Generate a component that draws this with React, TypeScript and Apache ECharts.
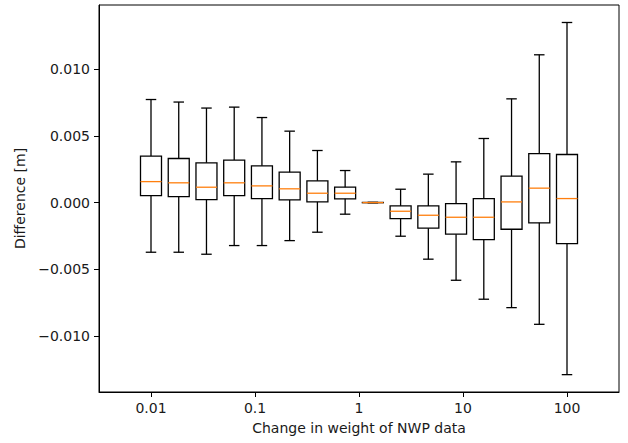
import React, { useEffect, useRef } from "react";
import * as echarts from "echarts";

// Weight multipliers (log-spaced, 0.01 .. 100)
const weights = [0.01, 0.01848, 0.03415, 0.0631, 0.1166, 0.2154, 0.3981, 0.7356, 1.359, 2.512, 4.642, 8.577, 15.85, 29.29, 54.12, 100];
const whiskerLow = [-0.00372, -0.00372, -0.00387, -0.00322, -0.00322, -0.00285, -0.00222, -0.00087, -0.00002, -0.00252, -0.00424, -0.00582, -0.00724, -0.00787, -0.00912, -0.01289];
const q1 = [0.000525, 0.00045, 0.000225, 0.000525, 0.0003, 0.0002, 0.00005, 0.00028, -0.00001, -0.0012, -0.00192, -0.00237, -0.00277, -0.002, -0.00152, -0.00307];
const median = [0.00157, 0.00148, 0.00115, 0.00148, 0.00125, 0.00103, 0.0007, 0.0007, 0.0, -0.00065, -0.00095, -0.0011, -0.0011, 0.00005, 0.00108, 0.0003];
const q3 = [0.00348, 0.0033, 0.00298, 0.00318, 0.00275, 0.00228, 0.00163, 0.00115, 0.00001, -0.00025, -0.00025, -0.000075, 0.0003, 0.00198, 0.00367, 0.0036];
const whiskerHigh = [0.00772, 0.00753, 0.00708, 0.00715, 0.00637, 0.00535, 0.0039, 0.0024, 0.00002, 0.001, 0.00213, 0.00305, 0.0048, 0.00777, 0.01107, 0.01349];

const yTicks = [-0.01, -0.005, 0, 0.005, 0.01];
const xTicks = [-2, -1, 0, 1, 2];
const xTickLabels = ["0.01", "0.1", "1", "10", "100"];

const FONT = "DejaVu Sans";
const TEXT = "#1a1a1a";

export default function App() {
  const ref = useRef<HTMLDivElement>(null);
  useEffect(() => {
    const chart = echarts.init(ref.current!, null, { renderer: "svg" });
    const data = weights.map((w, i) => [Math.log10(w), whiskerLow[i], q1[i], median[i], q3[i], whiskerHigh[i]]);
    const boxW = 21;
    const capW = 10.5;
    const lineStyle = { stroke: "#000", lineWidth: 1.3, fill: null };
    chart.setOption({
      animation: false,
      grid: { left: 99, right: 9, top: 5, bottom: 51, show: true, borderColor: "#000", borderWidth: 1 },
      xAxis: {
        type: "value",
        min: -2.5,
        max: 2.5,
        splitLine: { show: false },
        axisLine: { show: true, onZero: false, lineStyle: { color: "#000", width: 1 } },
        axisTick: { show: true, length: 5, lineStyle: { color: "#000" }, customValues: xTicks },
        axisLabel: {
          customValues: xTicks,
          margin: 9,
          fontFamily: FONT,
          fontSize: 14,
          color: TEXT,
          formatter: (v: number) => {
            const idx = xTicks.findIndex((t) => Math.abs(t - v) < 1e-9);
            return idx >= 0 ? xTickLabels[idx] : "";
          },
        },
        name: "Change in weight of NWP data",
        nameLocation: "middle",
        nameGap: 29,
        nameTextStyle: { fontFamily: FONT, fontSize: 14, color: TEXT },
      },
      yAxis: {
        type: "value",
        min: -0.01419,
        max: 0.0148,
        splitLine: { show: false },
        axisLine: { show: true, onZero: false, lineStyle: { color: "#000", width: 1 } },
        axisTick: { show: true, length: 5, lineStyle: { color: "#000" }, customValues: yTicks },
        axisLabel: {
          customValues: yTicks,
          margin: 9,
          fontFamily: FONT,
          fontSize: 14,
          color: TEXT,
          formatter: (v: number) => v.toFixed(3).replace("-", "\u2212"),
        },
        name: "Difference [m]",
        nameLocation: "middle",
        nameGap: 70,
        nameTextStyle: { fontFamily: FONT, fontSize: 14, color: TEXT },
      },
      series: [
        {
          type: "custom",
          data,
          encode: { x: 0, y: [1, 2, 3, 4, 5] },
          renderItem: (params: any, api: any) => {
            const x = api.value(0);
            const pLow = api.coord([x, api.value(1)]);
            const pQ1 = api.coord([x, api.value(2)]);
            const pMed = api.coord([x, api.value(3)]);
            const pQ3 = api.coord([x, api.value(4)]);
            const pHigh = api.coord([x, api.value(5)]);
            const cx = pLow[0];
            return {
              type: "group",
              children: [
                { type: "line", shape: { x1: cx, y1: pLow[1], x2: cx, y2: pQ1[1] }, style: lineStyle },
                { type: "line", shape: { x1: cx, y1: pQ3[1], x2: cx, y2: pHigh[1] }, style: lineStyle },
                { type: "line", shape: { x1: cx - capW / 2, y1: pLow[1], x2: cx + capW / 2, y2: pLow[1] }, style: lineStyle },
                { type: "line", shape: { x1: cx - capW / 2, y1: pHigh[1], x2: cx + capW / 2, y2: pHigh[1] }, style: lineStyle },
                {
                  type: "rect",
                  shape: { x: cx - boxW / 2, y: pQ3[1], width: boxW, height: pQ1[1] - pQ3[1] },
                  style: { stroke: "#000", lineWidth: 1.3, fill: "none" },
                },
                {
                  type: "line",
                  shape: { x1: cx - boxW / 2, y1: pMed[1], x2: cx + boxW / 2, y2: pMed[1] },
                  style: { stroke: "#ff7f0e", lineWidth: 1.3 },
                },
              ],
            };
          },
        },
      ],
    });
    return () => chart.dispose();
  }, []);
  return <div ref={ref} style={{ width: 628, height: 443, position: "absolute", left: 0, top: 0 }} />;
}
